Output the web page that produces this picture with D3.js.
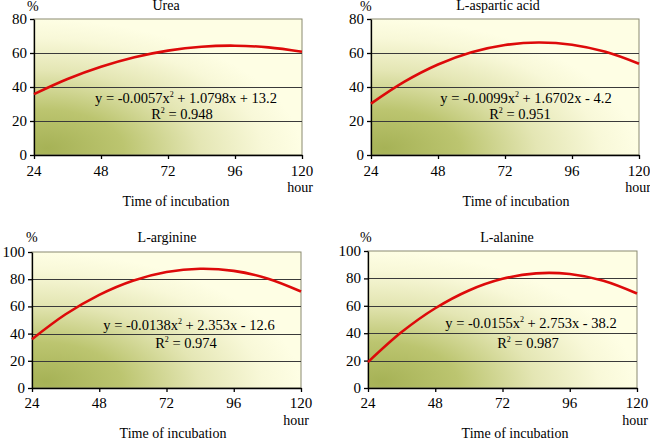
<!DOCTYPE html>
<html><head><meta charset="utf-8">
<script src="https://cdn.jsdelivr.net/npm/d3@7/dist/d3.min.js"></script>
<style>
html,body{margin:0;padding:0;background:#fff;}
</style></head>
<body>
<svg id="c" width="650" height="440" font-family="'Liberation Serif', 'DejaVu Serif', serif"></svg>
<script>
// ---- data ----
const hours = [24, 36, 48, 60, 72, 84, 96, 108, 120];
const ureaValues = [35.8, 44.7, 51.9, 57.5, 61.4, 63.7, 64.3, 63.3, 60.7];
const asparticValues = [30.2, 43.1, 53.2, 60.4, 64.7, 66.2, 64.9, 60.7, 53.7];
const arginineValues = [35.9, 54.2, 68.5, 78.9, 85.3, 87.7, 86.1, 80.6, 71.0];
const alanineValues = [18.9, 40.8, 58.2, 71.2, 79.7, 83.7, 83.2, 78.3, 69.0];
const titles = ["Urea", "L-aspartic acid", "L-arginine", "L-alanine"];
const equations = ["y = -0.0057x", "y = -0.0099x", "y = -0.0138x", "y = -0.0155x"];
const equationTails = [" + 1.0798x + 13.2", " + 1.6702x - 4.2", " + 2.353x - 12.6", " + 2.753x - 38.2"];
const r2Labels = ["0.948", "0.951", "0.974", "0.987"];
const xTicks = [24, 48, 72, 96, 120];
const yTicksSmall = [0, 20, 40, 60, 80];
const yTicksLarge = [0, 20, 40, 60, 80, 100];
const yMaxes = [80, 80, 100, 100];

const series = [ureaValues, asparticValues, arginineValues, alanineValues];
const FONT = "'Liberation Serif', 'DejaVu Serif', serif";
const svg = d3.select("#c");
const defs = svg.append("defs");
const grad = defs.append("radialGradient").attr("id","bg")
  .attr("cx","0").attr("cy","1").attr("r","1").attr("fx","0.05").attr("fy","0.95");
[[0,"#a6b256"],[0.3,"#bcc570"],[0.6,"#e4e6b4"],[0.85,"#f8f8d8"],[1,"#fefee4"]]
  .forEach(([o,c]) => grad.append("stop").attr("offset",o).attr("stop-color",c));

// layout for panels
const panels = [
  {x0:34, x1:302, y0:19, y1:155, pct:[27,11], title:[166,10], hour:[313,192], tix:[176,206], eq:[186,103], r2:[182,119], tickBase:176},
  {x0:371, x1:639, y0:19, y1:155, pct:[360,11], title:[498,10], hour:[651,192], tix:[516,206], eq:[526,103], r2:[520,119], tickBase:176},
  {x0:32, x1:301, y0:252, y1:388, pct:[26,242], title:[167,242], hour:[309,425], tix:[173,438], eq:[189,330], r2:[186,348], tickBase:408},
  {x0:368, x1:637, y0:251, y1:388, pct:[360,242], title:[507,242], hour:[648,425], tix:[515,438], eq:[531,328], r2:[528,348], tickBase:408}
];

function txt(g, x, y, s, size, anchor) {
  return g.append("text").attr("x",x).attr("y",y).attr("font-family",FONT)
    .attr("font-size",size).attr("text-anchor",anchor||"start").attr("fill","#000").text(s);
}

panels.forEach((p, i) => {
  const g = svg.append("g");
  const x = d3.scaleLinear().domain([24,120]).range([p.x0,p.x1]);
  const y = d3.scaleLinear().domain([0,yMaxes[i]]).range([p.y1,p.y0]);
  const yt = yMaxes[i] === 80 ? yTicksSmall : yTicksLarge;

  g.append("rect").attr("x",p.x0).attr("y",p.y0).attr("width",p.x1-p.x0).attr("height",p.y1-p.y0)
    .attr("fill","url(#bg)").attr("stroke","#8a8a70").attr("stroke-width",1);

  // gridlines
  g.selectAll(".grid").data(yt.filter(v => v>0 && v<yMaxes[i])).enter().append("line")
    .attr("x1",p.x0).attr("x2",p.x1).attr("y1",d=>Math.round(y(d))+0.5).attr("y2",d=>Math.round(y(d))+0.5)
    .attr("stroke","#3a3a3a").attr("stroke-width",1);

  // axes
  const ax = g.append("g").attr("transform",`translate(0,${p.y1})`)
    .call(d3.axisBottom(x).tickValues(xTicks).tickSize(4).tickSizeOuter(0).tickFormat(""));
  const ay = g.append("g").attr("transform",`translate(${p.x0},0)`)
    .call(d3.axisLeft(y).tickValues(yt).tickSize(4).tickSizeOuter(0).tickFormat(""));
  [ax,ay].forEach(a => { a.selectAll("path,line").attr("stroke","#000").attr("stroke-width",1.3); });

  // tick labels
  xTicks.forEach(d => txt(g, x(d), p.tickBase, String(d), 15, "middle"));
  yt.forEach(d => txt(g, p.x0-7, y(d)+5, String(d), 15, "end"));

  txt(g, p.pct[0], p.pct[1], "%", 14);
  txt(g, p.title[0], p.title[1], titles[i], 14, "middle");
  txt(g, p.hour[0], p.hour[1], "hour", 14, "end");
  txt(g, p.tix[0], p.tix[1], "Time of incubation", 14, "middle");

  // curve
  const line = d3.line().x((d,j)=>x(hours[j])).y(d=>y(d)).curve(d3.curveCatmullRom);
  g.append("path").datum(series[i]).attr("d",line).attr("fill","none")
    .attr("stroke","#dd0a0a").attr("stroke-width",2.6);

  // equation
  const eq = txt(g, p.eq[0], p.eq[1], null, 14.5, "middle");
  eq.append("tspan").text(equations[i]);
  eq.append("tspan").attr("dy",-6).attr("font-size",8).text("2");
  eq.append("tspan").attr("dy",6).text(equationTails[i]);
  const r2 = txt(g, p.r2[0], p.r2[1], null, 14.5, "middle");
  r2.append("tspan").text("R");
  r2.append("tspan").attr("dy",-6).attr("font-size",8).text("2");
  r2.append("tspan").attr("dy",6).text(" = " + r2Labels[i]);
});
</script>
</body></html>
